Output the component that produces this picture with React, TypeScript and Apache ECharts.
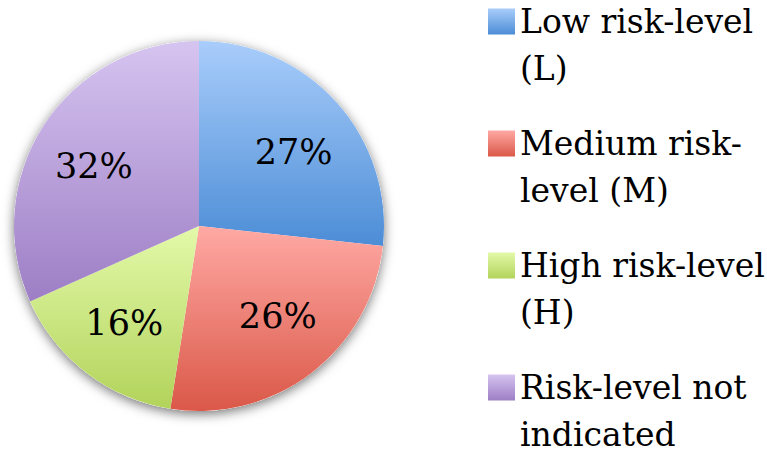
import React, { useEffect, useRef } from 'react';
import * as echarts from 'echarts';

const categories = [
  'Low risk-level\n(L)',
  'Medium risk-\nlevel (M)',
  'High risk-level\n(H)',
  'Risk-level not\nindicated',
];
const values = [27, 26, 16, 32];
const percentLabels = ['27%', '26%', '16%', '32%'];
const topColors = ['#A9CDFB', '#FFA9A4', '#E3F9A9', '#D6C4F0'];
const bottomColors = ['#4C8DD6', '#DA5848', '#B2D35B', '#9D7EC5'];

// small style nudges of the in-slice percentage labels (pixels)
const labelNudge = [
  [3, 8],
  [4, -8],
  [0, -1],
  [-2, 7],
];

const FONT = '"DejaVu Serif", serif';

export default function App() {
  const ref = useRef<HTMLDivElement>(null);

  useEffect(() => {
    if (!ref.current) return;
    const chart = echarts.init(ref.current, undefined, { renderer: 'svg' });

    const mainData = categories.map((name, i) => ({
      name,
      value: values[i],
      itemStyle: {
        color: new echarts.graphic.LinearGradient(0, 0, 0, 1, [
          { offset: 0, color: topColors[i] },
          { offset: 1, color: bottomColors[i] },
        ]),
      },
    }));

    const labelData = categories.map((name, i) => ({
      name,
      value: values[i],
      label: { formatter: percentLabels[i] },
    }));

    chart.setOption({
      animation: false,
      backgroundColor: '#ffffff',
      legend: {
        orient: 'vertical',
        left: 488,
        top: -49,
        height: 800,
        padding: 0,
        itemWidth: 27,
        itemHeight: 26,
        itemGap: -19,
        icon: 'rect',
        selectedMode: false,
        data: categories,
        formatter: (name: string) => '\n' + name,
        textStyle: {
          fontFamily: FONT,
          fontSize: 33,
          lineHeight: 47,
          color: '#000000',
        },
      },
      series: [
        {
          type: 'pie',
          name: 'shadow',
          silent: true,
          center: [199, 226],
          radius: 185,
          label: { show: false },
          labelLine: { show: false },
          itemStyle: {
            color: '#ffffff',
            shadowBlur: 12,
            shadowColor: 'rgba(0,0,0,0.55)',
            shadowOffsetY: 3,
          },
          data: [{ value: 1, name: '' }],
          z: 1,
        },
        {
          type: 'pie',
          name: 'risk',
          center: [199, 226],
          radius: 185,
          startAngle: 90,
          clockwise: true,
          silent: true,
          label: { show: false },
          labelLine: { show: false },
          itemStyle: { borderWidth: 0 },
          data: mainData,
          z: 2,
        },
        {
          type: 'pie',
          name: 'labels',
          center: [199, 226],
          radius: [0, 240],
          startAngle: 90,
          clockwise: true,
          silent: true,
          itemStyle: { color: 'rgba(0,0,0,0)', borderWidth: 0 },
          label: {
            show: true,
            position: 'inside',
            fontFamily: FONT,
            fontSize: 35,
            color: '#000000',
          },
          labelLayout: (p: any) => ({
            dx: labelNudge[p.dataIndex][0],
            dy: labelNudge[p.dataIndex][1],
          }),
          labelLine: { show: false },
          data: labelData,
          z: 3,
        },
      ],
    });

    return () => chart.dispose();
  }, []);

  return (
    <div
      ref={ref}
      style={{ position: 'fixed', left: 0, top: 0, width: 767, height: 452 }}
    />
  );
}
